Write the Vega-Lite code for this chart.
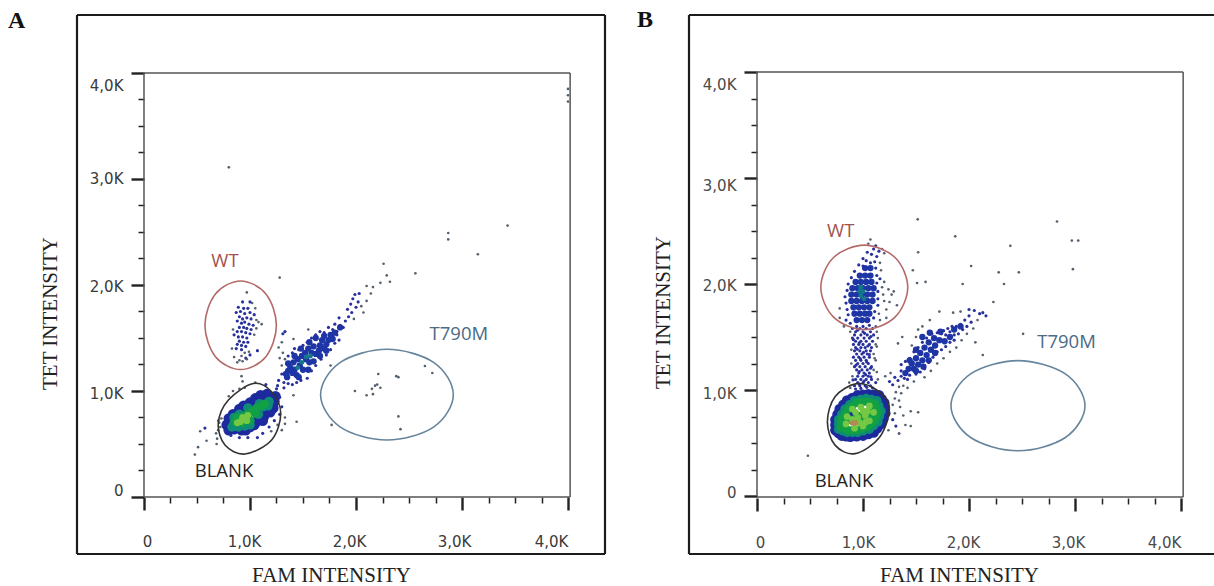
{"$schema":"https://vega.github.io/schema/vega-lite/v6.json","autosize":{"type":"pad"},"padding":{"left":8,"top":8,"right":0,"bottom":0},"background":"white","bounds":"flush","spacing":84,"config":{"view":{"stroke":null},"axis":{"grid":false,"domain":false}},
"hconcat":[
{"width":528,"height":539,"resolve":{"scale":{"color":"independent","size":"independent"}},
"encoding":{"x":{"field":"x","type":"quantitative","scale":{"domain":[-0.632,4.349],"nice":false,"zero":false},"axis":{"offset":-57,"values":[0,0.25,0.5,0.75,1,1.25,1.5,1.75,2,2.25,2.5,2.75,3,3.25,3.5,3.75,4],"tickSize":{"condition":{"test":"datum.value%1!=0","value":6},"value":13},"tickWidth":{"condition":{"test":"datum.value%1!=0","value":1.5},"value":2.4},"tickColor":"#222","labelPadding":24,"labelFont":"DejaVu Sans","labelFontSize":15,"labelColor":"#3a3a3a","labelBaseline":"top","labelFlush":false,"labelOverlap":false,"labelExpr":"datum.value%1!=0?'':datum.value==0?'0':replace(format(datum.value,'.1f'),'.',',')+'K'","title":"FAM INTENSITY","titleFont":"Liberation Serif","titleFontSize":21,"titleFontWeight":"normal","titleColor":"#222","titleX":254,"titleY":78,"titleBaseline":"middle","labelOffset":{"condition":[{"test":"datum.value==0","value":3},{"test":"datum.value==1","value":-6},{"test":"datum.value==2","value":-7},{"test":"datum.value==3","value":-8}],"value":-17}}},"y":{"field":"y","type":"quantitative","scale":{"domain":[-0.538,4.547],"nice":false,"zero":false},"axis":{"offset":-67,"values":[0,0.25,0.5,0.75,1,1.25,1.5,1.75,2,2.25,2.5,2.75,3,3.25,3.5,3.75,4],"tickSize":{"condition":{"test":"datum.value%1!=0","value":6},"value":13},"tickWidth":{"condition":{"test":"datum.value%1!=0","value":1.5},"value":2.4},"tickColor":"#222","labelPadding":8,"labelFont":"DejaVu Sans","labelFontSize":15,"labelColor":"#3a3a3a","labelOverlap":false,"labelFlush":false,"labelExpr":"datum.value%1!=0?'':datum.value==0?'0':replace(format(datum.value,'.1f'),'.',',')+'K'","title":"TET INTENSITY","titleFont":"Liberation Serif","titleFontSize":21,"titleFontWeight":"normal","titleColor":"#222","titleX":-94,"titleY":298,"titleBaseline":"middle","titleAngle":-90,"labelOffset":{"condition":[{"test":"datum.value==0","value":-6},{"test":"datum.value==1","value":3},{"test":"datum.value==2","value":2},{"test":"datum.value==3","value":0}],"value":13}}}},
"layer":[
{"mark":{"type":"rule","strokeWidth":2.2,"color":"#1c1c1c"},"data":{"values":[{"x":-0.632,"x2":4.349,"y":4.547,"y2":4.547},{"x":-0.632,"x2":4.349,"y":-0.538,"y2":-0.538},{"x":-0.632,"x2":-0.632,"y":-0.538,"y2":4.547},{"x":4.349,"x2":4.349,"y":-0.538,"y2":4.547}]},
"encoding":{"x2":{"field":"x2"},"y2":{"field":"y2"}}},
{"mark":{"type":"rule","strokeWidth":1.5,"color":"#555"},"data":{"values":[{"x":0,"x2":0,"y":0,"y2":4},{"x":0,"x2":4.02,"y":0,"y2":0},{"x":0,"x2":4.02,"y":4,"y2":4},{"x":4.02,"x2":4.02,"y":0,"y2":4}]},
"encoding":{"x2":{"field":"x2"},"y2":{"field":"y2"}}},
{"mark":{"type":"point","filled":true,"strokeWidth":0,"opacity":1},"data":{"values":[
{"x":0.81,"y":0.68,"d":"b"},{"x":0.87,"y":0.73,"d":"b"},{"x":0.94,"y":0.79,"d":"b"},{"x":1.03,"y":0.85,"d":"b"},{"x":1.13,"y":0.92,"d":"b"},{"x":1.2,"y":0.94,"d":"b"},{"x":0.92,"y":0.63,"d":"b"},{"x":1.0,"y":0.66,"d":"b"},{"x":1.08,"y":0.74,"d":"b"},{"x":1.16,"y":0.82,"d":"b"},{"x":1.2,"y":0.88,"d":"b"},{"x":0.97,"y":0.74,"d":"b"},{"x":1.06,"y":0.81,"d":"b"},{"x":1.13,"y":0.87,"d":"b"},{"x":0.85,"y":0.64,"d":"b"},{"x":0.8,"y":0.74,"d":"b"},{"x":0.9,"y":0.83,"d":"b"},{"x":1.0,"y":0.89,"d":"b"},{"x":1.1,"y":0.96,"d":"b"},{"x":1.05,"y":0.7,"d":"b"},{"x":1.13,"y":0.76,"d":"b"},{"x":1.22,"y":0.84,"d":"b"},{"x":0.88,"y":0.69,"d":"b"},{"x":0.78,"y":0.68,"d":"b"},{"x":0.8,"y":0.63,"d":"b"},{"x":0.96,"y":0.63,"d":"b"},{"x":1.04,"y":0.68,"d":"b"},{"x":1.12,"y":0.72,"d":"b"},{"x":1.19,"y":0.8,"d":"b"},{"x":1.23,"y":0.9,"d":"b"},{"x":1.24,"y":0.95,"d":"b"},{"x":0.84,"y":0.78,"d":"b"},{"x":0.94,"y":0.86,"d":"b"},{"x":1.05,"y":0.93,"d":"b"},{"x":1.16,"y":0.97,"d":"b"},
{"x":0.85,"y":0.7,"d":"c"},{"x":0.93,"y":0.7,"d":"c"},{"x":1.0,"y":0.72,"d":"c"},{"x":1.06,"y":0.79,"d":"c"},{"x":1.12,"y":0.85,"d":"c"},{"x":1.18,"y":0.9,"d":"c"},{"x":0.94,"y":0.76,"d":"c"},{"x":1.02,"y":0.81,"d":"c"},{"x":1.09,"y":0.88,"d":"c"},{"x":0.83,"y":0.66,"d":"c"},{"x":0.9,"y":0.78,"d":"c"},{"x":0.98,"y":0.84,"d":"c"},{"x":1.08,"y":0.83,"d":"c"},{"x":1.0,"y":0.68,"d":"c"},{"x":1.08,"y":0.78,"d":"c"},{"x":1.17,"y":0.86,"d":"c"},{"x":0.89,"y":0.66,"d":"c"},{"x":0.85,"y":0.75,"d":"c"},{"x":0.95,"y":0.67,"d":"c"},
{"x":0.86,"y":0.71,"d":"e"},{"x":0.93,"y":0.7,"d":"e"},{"x":1.0,"y":0.72,"d":"e"},{"x":1.05,"y":0.79,"d":"e"},{"x":1.11,"y":0.86,"d":"e"},{"x":0.95,"y":0.77,"d":"e"},{"x":1.02,"y":0.81,"d":"e"},{"x":0.88,"y":0.75,"d":"e"},{"x":0.98,"y":0.78,"d":"e"},{"x":1.06,"y":0.84,"d":"e"},{"x":1.14,"y":0.88,"d":"e"},
{"x":0.91,"y":0.71,"d":"l"},{"x":0.95,"y":0.73,"d":"l"},{"x":0.98,"y":0.77,"d":"l"},{"x":0.88,"y":0.7,"d":"l"},{"x":0.93,"y":0.75,"d":"l"},{"x":0.97,"y":0.72,"d":"l"},
{"x":1.35,"y":1.13,"d":"m"},{"x":1.4,"y":1.17,"d":"m"},{"x":1.38,"y":1.22,"d":"m"},{"x":1.44,"y":1.15,"d":"m"},{"x":1.47,"y":1.24,"d":"m"},{"x":1.5,"y":1.2,"d":"m"},{"x":1.45,"y":1.3,"d":"m"},{"x":1.53,"y":1.3,"d":"m"},{"x":1.56,"y":1.27,"d":"m"},{"x":1.52,"y":1.36,"d":"m"},{"x":1.58,"y":1.36,"d":"m"},{"x":1.62,"y":1.35,"d":"m"},{"x":1.6,"y":1.42,"d":"m"},{"x":1.66,"y":1.43,"d":"m"},{"x":1.7,"y":1.4,"d":"m"},{"x":1.68,"y":1.48,"d":"m"},{"x":1.74,"y":1.48,"d":"m"},{"x":1.76,"y":1.53,"d":"m"},{"x":1.42,"y":1.2,"d":"m"},{"x":1.41,"y":1.27,"d":"m"},{"x":1.49,"y":1.33,"d":"m"},{"x":1.55,"y":1.4,"d":"m"},{"x":1.65,"y":1.38,"d":"m"},{"x":1.72,"y":1.44,"d":"m"},{"x":1.36,"y":1.19,"d":"m"},{"x":1.34,"y":1.16,"d":"m"},{"x":1.46,"y":1.13,"d":"m"},{"x":1.55,"y":1.2,"d":"m"},{"x":1.6,"y":1.28,"d":"m"},{"x":1.66,"y":1.33,"d":"m"},{"x":1.72,"y":1.38,"d":"m"},{"x":1.36,"y":1.26,"d":"m"},{"x":1.42,"y":1.33,"d":"m"},{"x":1.48,"y":1.4,"d":"m"},{"x":1.56,"y":1.46,"d":"m"},{"x":1.62,"y":1.5,"d":"m"},{"x":1.7,"y":1.52,"d":"m"},{"x":1.8,"y":1.55,"d":"m"},{"x":1.85,"y":1.6,"d":"m"},{"x":1.78,"y":1.49,"d":"m"},
{"x":1.45,"y":1.22,"d":"t"},{"x":1.49,"y":1.27,"d":"t"},{"x":1.53,"y":1.32,"d":"t"},{"x":1.57,"y":1.33,"d":"t"},
{"x":0.97,"y":1.93,"d":"g"},{"x":0.93,"y":1.84,"d":"s"},{"x":1.0,"y":1.84,"d":"s"},{"x":1.02,"y":1.83,"d":"g"},{"x":0.89,"y":1.79,"d":"s"},{"x":0.94,"y":1.78,"d":"s"},{"x":0.98,"y":1.78,"d":"s"},{"x":1.05,"y":1.78,"d":"g"},{"x":0.87,"y":1.74,"d":"s"},{"x":0.91,"y":1.75,"d":"s"},{"x":0.95,"y":1.73,"d":"s"},{"x":1.0,"y":1.74,"d":"s"},{"x":1.04,"y":1.72,"d":"s"},{"x":0.9,"y":1.7,"d":"s"},{"x":0.93,"y":1.68,"d":"s"},{"x":0.97,"y":1.69,"d":"s"},{"x":1.01,"y":1.68,"d":"s"},{"x":1.06,"y":1.67,"d":"g"},{"x":1.08,"y":1.65,"d":"g"},{"x":1.11,"y":1.63,"d":"g"},{"x":0.88,"y":1.66,"d":"s"},{"x":0.92,"y":1.64,"d":"s"},{"x":0.95,"y":1.65,"d":"s"},{"x":0.99,"y":1.63,"d":"s"},{"x":1.03,"y":1.62,"d":"s"},{"x":0.9,"y":1.6,"d":"s"},{"x":0.94,"y":1.6,"d":"s"},{"x":0.97,"y":1.59,"d":"s"},{"x":1.01,"y":1.58,"d":"s"},{"x":1.06,"y":1.59,"d":"g"},{"x":0.84,"y":1.58,"d":"g"},{"x":0.88,"y":1.56,"d":"s"},{"x":0.92,"y":1.56,"d":"s"},{"x":0.96,"y":1.55,"d":"s"},{"x":1.0,"y":1.54,"d":"s"},{"x":1.04,"y":1.53,"d":"g"},{"x":0.85,"y":1.53,"d":"s"},{"x":0.89,"y":1.51,"d":"s"},{"x":0.93,"y":1.51,"d":"s"},{"x":0.97,"y":1.5,"d":"s"},{"x":0.9,"y":1.47,"d":"s"},{"x":0.94,"y":1.46,"d":"s"},{"x":0.98,"y":1.46,"d":"s"},{"x":0.88,"y":1.44,"d":"s"},{"x":0.92,"y":1.43,"d":"s"},{"x":0.96,"y":1.42,"d":"s"},{"x":0.83,"y":1.4,"d":"g"},{"x":0.87,"y":1.4,"d":"s"},{"x":0.92,"y":1.39,"d":"s"},{"x":1.07,"y":1.38,"d":"s"},{"x":0.95,"y":1.36,"d":"g"},{"x":0.99,"y":1.37,"d":"g"},{"x":0.85,"y":1.32,"d":"g"},{"x":0.92,"y":1.33,"d":"g"},{"x":0.96,"y":1.31,"d":"s"},{"x":1.0,"y":1.34,"d":"s"},{"x":0.9,"y":1.29,"d":"g"},{"x":0.93,"y":1.28,"d":"g"},{"x":0.88,"y":1.27,"d":"g"},{"x":0.97,"y":1.3,"d":"g"},{"x":0.92,"y":1.14,"d":"g"},{"x":0.93,"y":1.09,"d":"g"},
{"x":0.9,"y":1.02,"d":"g"},{"x":0.84,"y":1.0,"d":"g"},{"x":0.8,"y":0.95,"d":"g"},{"x":0.95,"y":1.03,"d":"g"},{"x":1.05,"y":1.08,"d":"g"},{"x":1.15,"y":1.06,"d":"s"},{"x":1.25,"y":1.02,"d":"s"},{"x":1.32,"y":1.03,"d":"s"},{"x":1.28,"y":0.94,"d":"s"},{"x":1.3,"y":0.85,"d":"s"},{"x":1.28,"y":0.78,"d":"s"},{"x":1.33,"y":0.75,"d":"g"},{"x":1.23,"y":0.72,"d":"s"},{"x":1.18,"y":0.66,"d":"s"},{"x":1.12,"y":0.6,"d":"s"},{"x":1.07,"y":0.56,"d":"s"},{"x":0.98,"y":0.56,"d":"s"},{"x":0.9,"y":0.56,"d":"s"},{"x":0.82,"y":0.58,"d":"s"},{"x":0.77,"y":0.62,"d":"s"},{"x":0.72,"y":0.66,"d":"g"},{"x":0.71,"y":0.7,"d":"g"},{"x":0.73,"y":0.74,"d":"g"},{"x":0.7,"y":0.63,"d":"g"},{"x":0.68,"y":0.6,"d":"g"},{"x":0.48,"y":0.4,"d":"g"},{"x":0.51,"y":0.47,"d":"g"},{"x":0.53,"y":0.62,"d":"g"},{"x":0.575,"y":0.65,"d":"s"},{"x":0.59,"y":0.53,"d":"g"},{"x":0.685,"y":0.5,"d":"g"},{"x":0.69,"y":0.55,"d":"g"},{"x":0.7,"y":0.72,"d":"g"},{"x":1.26,"y":0.68,"d":"g"},{"x":1.2,"y":0.62,"d":"g"},
{"x":1.27,"y":1.1,"d":"s"},{"x":1.3,"y":1.16,"d":"s"},{"x":1.32,"y":1.08,"d":"s"},{"x":1.26,"y":1.05,"d":"s"},{"x":1.36,"y":1.07,"d":"s"},{"x":1.4,"y":1.06,"d":"s"},{"x":1.44,"y":1.08,"d":"s"},{"x":1.48,"y":1.1,"d":"s"},{"x":1.54,"y":1.12,"d":"s"},{"x":1.58,"y":1.19,"d":"s"},{"x":1.62,"y":1.24,"d":"s"},{"x":1.67,"y":1.3,"d":"s"},{"x":1.72,"y":1.34,"d":"s"},{"x":1.76,"y":1.39,"d":"s"},{"x":1.8,"y":1.45,"d":"s"},{"x":1.84,"y":1.48,"d":"s"},{"x":1.3,"y":1.24,"d":"g"},{"x":1.33,"y":1.3,"d":"g"},{"x":1.36,"y":1.33,"d":"s"},{"x":1.4,"y":1.36,"d":"s"},{"x":1.42,"y":1.4,"d":"s"},{"x":1.46,"y":1.39,"d":"s"},{"x":1.5,"y":1.43,"d":"s"},{"x":1.54,"y":1.46,"d":"s"},{"x":1.58,"y":1.5,"d":"s"},{"x":1.62,"y":1.53,"d":"s"},{"x":1.66,"y":1.56,"d":"s"},{"x":1.7,"y":1.55,"d":"s"},{"x":1.74,"y":1.6,"d":"s"},{"x":1.78,"y":1.52,"d":"s"},{"x":1.82,"y":1.53,"d":"s"},{"x":1.3,"y":1.46,"d":"g"},{"x":1.27,"y":1.41,"d":"g"},{"x":1.31,"y":1.54,"d":"s"},{"x":1.33,"y":1.56,"d":"s"},{"x":1.31,"y":1.36,"d":"g"},{"x":1.28,"y":1.31,"d":"g"},{"x":1.41,"y":1.49,"d":"g"},{"x":1.55,"y":1.58,"d":"g"},{"x":1.76,"y":1.24,"d":"g"},
{"x":1.78,"y":1.58,"d":"s"},{"x":1.82,"y":1.56,"d":"s"},{"x":1.8,"y":1.63,"d":"s"},{"x":1.85,"y":1.62,"d":"s"},{"x":1.88,"y":1.6,"d":"s"},{"x":1.84,"y":1.69,"d":"s"},{"x":1.9,"y":1.66,"d":"s"},{"x":1.93,"y":1.7,"d":"s"},{"x":1.96,"y":1.74,"d":"s"},{"x":1.92,"y":1.77,"d":"s"},{"x":1.98,"y":1.68,"d":"g"},{"x":2.0,"y":1.79,"d":"s"},{"x":1.95,"y":1.82,"d":"s"},{"x":2.02,"y":1.84,"d":"s"},{"x":1.97,"y":1.87,"d":"s"},{"x":2.05,"y":1.8,"d":"g"},{"x":2.07,"y":1.74,"d":"g"},{"x":1.99,"y":1.91,"d":"s"},{"x":2.03,"y":1.92,"d":"s"},{"x":2.1,"y":1.85,"d":"g"},{"x":2.14,"y":1.92,"d":"g"},{"x":2.1,"y":1.99,"d":"g"},{"x":2.16,"y":1.98,"d":"g"},{"x":2.26,"y":2.2,"d":"g"},{"x":2.29,"y":2.09,"d":"g"},{"x":2.32,"y":2.03,"d":"g"},{"x":2.23,"y":2.02,"d":"g"},{"x":2.56,"y":2.11,"d":"g"},
{"x":2.65,"y":1.236,"d":"g"},{"x":2.72,"y":1.17,"d":"g"},{"x":2.21,"y":1.16,"d":"g"},{"x":2.38,"y":1.14,"d":"g"},{"x":2.4,"y":1.13,"d":"g"},{"x":1.99,"y":1.0,"d":"g"},{"x":2.15,"y":1.02,"d":"g"},{"x":2.18,"y":1.05,"d":"g"},{"x":2.2,"y":1.06,"d":"g"},{"x":2.23,"y":1.03,"d":"g"},{"x":2.1,"y":0.96,"d":"g"},{"x":2.16,"y":0.97,"d":"g"},{"x":2.4,"y":0.76,"d":"g"},{"x":2.42,"y":0.64,"d":"g"},{"x":1.77,"y":0.68,"d":"g"},{"x":1.44,"y":0.71,"d":"g"},{"x":1.33,"y":0.69,"d":"g"},{"x":1.3,"y":0.63,"d":"g"},{"x":1.41,"y":0.96,"d":"g"},
{"x":0.8,"y":3.11,"d":"g"},{"x":2.87,"y":2.43,"d":"g"},{"x":2.87,"y":2.49,"d":"g"},{"x":3.43,"y":2.56,"d":"g"},{"x":3.15,"y":2.29,"d":"g"},{"x":1.28,"y":2.07,"d":"g"},{"x":4.0,"y":3.85,"d":"g"},{"x":4.0,"y":3.79,"d":"g"},{"x":4.0,"y":3.73,"d":"g"}
]},"encoding":{
"color":{"field":"d","type":"nominal","legend":null,"scale":{"domain":["s","g","m","t","b","c","e","l","o"],"range":["#27309c","#55606e","#1d35a5","#14788c","#1c2a9e","#0f8c78","#11a044","#74c843","#b28a55"]}},
"size":{"field":"d","type":"nominal","legend":null,"scale":{"type":"ordinal","domain":["s","g","m","t","b","c","e","l","o"],"range":[10,7,40,24,113,90,70,45,30]}}}},
{"mark":{"type":"line","interpolate":"cardinal-closed","strokeWidth":1.6},"data":{"values":[
{"n":"WT","o":1,"x":1.249,"y":1.62},{"n":"WT","o":2,"x":1.15,"y":1.916},{"n":"WT","o":3,"x":0.912,"y":2.038},{"n":"WT","o":4,"x":0.674,"y":1.916},{"n":"WT","o":5,"x":0.575,"y":1.62},{"n":"WT","o":6,"x":0.674,"y":1.324},{"n":"WT","o":7,"x":0.912,"y":1.202},{"n":"WT","o":8,"x":1.15,"y":1.324},
{"n":"BLANK","o":1,"x":1.29,"y":0.79},{"n":"BLANK","o":2,"x":1.204,"y":0.993},{"n":"BLANK","o":3,"x":1.031,"y":1.07},{"n":"BLANK","o":4,"x":0.796,"y":0.915},{"n":"BLANK","o":5,"x":0.701,"y":0.695},{"n":"BLANK","o":6,"x":0.764,"y":0.49},{"n":"BLANK","o":7,"x":0.953,"y":0.405},{"n":"BLANK","o":8,"x":1.204,"y":0.538},
{"n":"T790M","o":1,"x":2.918,"y":0.965},{"n":"T790M","o":2,"x":2.735,"y":1.268},{"n":"T790M","o":3,"x":2.292,"y":1.393},{"n":"T790M","o":4,"x":1.849,"y":1.268},{"n":"T790M","o":5,"x":1.666,"y":0.965},{"n":"T790M","o":6,"x":1.849,"y":0.662},{"n":"T790M","o":7,"x":2.292,"y":0.537},{"n":"T790M","o":8,"x":2.735,"y":0.662}
]},"encoding":{"order":{"field":"o","type":"quantitative"},"color":{"field":"n","type":"nominal","legend":null,"scale":{"domain":["WT","BLANK","T790M"],"range":["#b46a68","#333333","#66859c"]}}}},
{"mark":{"type":"text","font":"Open Sans","fontSize":18.5,"align":"center","baseline":"middle"},"data":{"values":[{"x":0.764,"y":2.226,"n":"WT"},{"x":0.755,"y":0.245,"n":"BLANK"},{"x":2.97,"y":1.54,"n":"T790M"}]},"encoding":{"text":{"field":"n"},"color":{"field":"n","type":"nominal","legend":null,"scale":{"domain":["WT","BLANK","T790M"],"range":["#a2524e","#222222","#4a6a85"]}}}},
{"mark":{"type":"text","font":"Liberation Serif","fontWeight":"bold","fontSize":24,"color":"#111","align":"center","baseline":"middle"},"data":{"values":[{"x":-1.2,"y":4.49,"n":"A"}]},"encoding":{"text":{"field":"n"}}}
]},
{"width":525,"height":539,"resolve":{"scale":{"color":"independent","size":"independent"}},
"encoding":{"x":{"field":"x","type":"quantitative","scale":{"domain":[-0.6415,4.311],"nice":false,"zero":false},"axis":{"offset":-56,"values":[0,0.25,0.5,0.75,1,1.25,1.5,1.75,2,2.25,2.5,2.75,3,3.25,3.5,3.75,4],"tickSize":{"condition":{"test":"datum.value%1!=0","value":6},"value":13},"tickWidth":{"condition":{"test":"datum.value%1!=0","value":1.5},"value":2.4},"tickColor":"#222","labelPadding":24,"labelFont":"DejaVu Sans","labelFontSize":15,"labelColor":"#4a4a4a","labelBaseline":"top","labelFlush":false,"labelOverlap":false,"labelExpr":"datum.value%1!=0?'':datum.value==0?'0':replace(format(datum.value,'.1f'),'.',',')+'K'","title":"FAM INTENSITY","titleFont":"Liberation Serif","titleFontSize":21,"titleFontWeight":"normal","titleColor":"#222","titleX":270,"titleY":77,"titleBaseline":"middle","labelOffset":{"condition":[{"test":"datum.value==0","value":3},{"test":"datum.value==1","value":-5},{"test":"datum.value==2","value":-6},{"test":"datum.value==3","value":-7}],"value":-17}}},"y":{"field":"y","type":"quantitative","scale":{"domain":[-0.547,4.538],"nice":false,"zero":false},"axis":{"offset":-68,"values":[0,0.25,0.5,0.75,1,1.25,1.5,1.75,2,2.25,2.5,2.75,3,3.25,3.5,3.75,4],"tickSize":{"condition":{"test":"datum.value%1!=0","value":6},"value":13},"tickWidth":{"condition":{"test":"datum.value%1!=0","value":1.5},"value":2.4},"tickColor":"#222","labelPadding":8,"labelFont":"DejaVu Sans","labelFontSize":15,"labelColor":"#4a4a4a","labelOverlap":false,"labelFlush":false,"labelExpr":"datum.value%1!=0?'':datum.value==0?'0':replace(format(datum.value,'.1f'),'.',',')+'K'","title":"TET INTENSITY","titleFont":"Liberation Serif","titleFontSize":21,"titleFontWeight":"normal","titleColor":"#222","titleX":-94,"titleY":297,"titleBaseline":"middle","titleAngle":-90,"labelOffset":{"condition":[{"test":"datum.value==0","value":-4},{"test":"datum.value==1","value":3},{"test":"datum.value==2","value":1},{"test":"datum.value==3","value":7}],"value":12}}}},
"layer":[
{"mark":{"type":"rule","strokeWidth":2.2,"color":"#1c1c1c"},"data":{"values":[{"x":-0.6415,"x2":4.311,"y":4.538,"y2":4.538},{"x":-0.6415,"x2":4.311,"y":-0.547,"y2":-0.547},{"x":-0.6415,"x2":-0.6415,"y":-0.547,"y2":4.538}]},
"encoding":{"x2":{"field":"x2"},"y2":{"field":"y2"}}},
{"mark":{"type":"rule","strokeWidth":1.5,"color":"#555"},"data":{"values":[{"x":0,"x2":0,"y":0,"y2":4},{"x":0,"x2":4.02,"y":-0.01,"y2":-0.01},{"x":0,"x2":4.02,"y":4,"y2":4},{"x":4.02,"x2":4.02,"y":-0.01,"y2":4}]},
"encoding":{"x2":{"field":"x2"},"y2":{"field":"y2"}}},
{"mark":{"type":"point","filled":true,"strokeWidth":0,"opacity":1},"data":{"values":[
{"x":0.74,"y":0.62,"d":"b"},{"x":0.74,"y":0.72,"d":"b"},{"x":0.78,"y":0.82,"d":"b"},{"x":0.85,"y":0.9,"d":"b"},{"x":0.95,"y":0.95,"d":"b"},{"x":1.05,"y":0.96,"d":"b"},{"x":1.15,"y":0.95,"d":"b"},{"x":1.2,"y":0.88,"d":"b"},{"x":1.21,"y":0.78,"d":"b"},{"x":1.17,"y":0.68,"d":"b"},{"x":1.1,"y":0.6,"d":"b"},{"x":1.0,"y":0.57,"d":"b"},{"x":0.88,"y":0.56,"d":"b"},{"x":0.8,"y":0.57,"d":"b"},{"x":0.9,"y":0.75,"d":"b"},{"x":1.0,"y":0.75,"d":"b"},{"x":1.1,"y":0.8,"d":"b"},{"x":0.74,"y":0.67,"d":"b"},{"x":0.76,"y":0.77,"d":"b"},{"x":0.815,"y":0.86,"d":"b"},{"x":0.9,"y":0.925,"d":"b"},{"x":1.0,"y":0.955,"d":"b"},{"x":1.1,"y":0.955,"d":"b"},{"x":1.175,"y":0.915,"d":"b"},{"x":1.205,"y":0.83,"d":"b"},{"x":1.19,"y":0.73,"d":"b"},{"x":1.135,"y":0.64,"d":"b"},{"x":1.05,"y":0.585,"d":"b"},{"x":0.94,"y":0.565,"d":"b"},{"x":0.84,"y":0.565,"d":"b"},{"x":0.77,"y":0.595,"d":"b"},
{"x":0.77,"y":0.63,"d":"c"},{"x":0.77,"y":0.72,"d":"c"},{"x":0.83,"y":0.82,"d":"c"},{"x":0.92,"y":0.9,"d":"c"},{"x":1.03,"y":0.92,"d":"c"},{"x":1.13,"y":0.9,"d":"c"},{"x":1.17,"y":0.8,"d":"c"},{"x":1.14,"y":0.7,"d":"c"},{"x":1.06,"y":0.63,"d":"c"},{"x":0.95,"y":0.6,"d":"c"},{"x":0.85,"y":0.6,"d":"c"},{"x":0.95,"y":0.75,"d":"c"},{"x":1.05,"y":0.77,"d":"c"},{"x":0.77,"y":0.675,"d":"c"},{"x":0.8,"y":0.77,"d":"c"},{"x":0.875,"y":0.86,"d":"c"},{"x":0.975,"y":0.91,"d":"c"},{"x":1.08,"y":0.91,"d":"c"},{"x":1.15,"y":0.85,"d":"c"},{"x":1.155,"y":0.75,"d":"c"},{"x":1.1,"y":0.665,"d":"c"},{"x":1.0,"y":0.615,"d":"c"},{"x":0.9,"y":0.6,"d":"c"},{"x":0.81,"y":0.615,"d":"c"},
{"x":0.79,"y":0.65,"d":"e"},{"x":0.8,"y":0.73,"d":"e"},{"x":0.86,"y":0.82,"d":"e"},{"x":0.94,"y":0.88,"d":"e"},{"x":1.03,"y":0.89,"d":"e"},{"x":1.11,"y":0.87,"d":"e"},{"x":1.14,"y":0.79,"d":"e"},{"x":1.11,"y":0.71,"d":"e"},{"x":1.04,"y":0.65,"d":"e"},{"x":0.94,"y":0.62,"d":"e"},{"x":0.86,"y":0.62,"d":"e"},{"x":0.95,"y":0.75,"d":"e"},{"x":1.03,"y":0.77,"d":"e"},{"x":0.87,"y":0.72,"d":"e"},{"x":1.07,"y":0.8,"d":"e"},{"x":0.795,"y":0.69,"d":"e"},{"x":0.83,"y":0.775,"d":"e"},{"x":0.9,"y":0.85,"d":"e"},{"x":0.985,"y":0.885,"d":"e"},{"x":1.07,"y":0.88,"d":"e"},{"x":1.125,"y":0.83,"d":"e"},{"x":1.125,"y":0.75,"d":"e"},{"x":1.075,"y":0.68,"d":"e"},{"x":0.99,"y":0.635,"d":"e"},{"x":0.9,"y":0.62,"d":"e"},{"x":0.825,"y":0.635,"d":"e"},{"x":0.9,"y":0.72,"d":"e"},{"x":1.0,"y":0.7,"d":"e"},{"x":1.08,"y":0.76,"d":"e"},
{"x":0.84,"y":0.68,"d":"l"},{"x":0.85,"y":0.75,"d":"l"},{"x":0.9,"y":0.82,"d":"l"},{"x":0.98,"y":0.84,"d":"l"},{"x":1.06,"y":0.85,"d":"l"},{"x":1.1,"y":0.79,"d":"l"},{"x":1.06,"y":0.71,"d":"l"},{"x":1.0,"y":0.66,"d":"l"},{"x":0.92,"y":0.64,"d":"l"},{"x":0.95,"y":0.74,"d":"l"},{"x":1.02,"y":0.76,"d":"l"},{"x":0.9,"y":0.72,"d":"l"},{"x":0.97,"y":0.69,"d":"l"},{"x":1.0,"y":0.8,"d":"l"},{"x":0.93,"y":0.79,"d":"l"},{"x":1.04,"y":0.8,"d":"l"},{"x":1.03,"y":0.7,"d":"l"},
{"x":0.9,"y":0.69,"d":"o"},{"x":0.93,"y":0.69,"d":"o"},
{"x":1.02,"y":2.15,"d":"m"},{"x":1.07,"y":2.15,"d":"m"},{"x":0.97,"y":2.08,"d":"m"},{"x":1.02,"y":2.08,"d":"m"},{"x":1.07,"y":2.08,"d":"m"},{"x":0.93,"y":2.02,"d":"m"},{"x":0.98,"y":2.02,"d":"m"},{"x":1.03,"y":2.02,"d":"m"},{"x":1.08,"y":2.02,"d":"m"},{"x":0.9,"y":1.96,"d":"m"},{"x":0.95,"y":1.96,"d":"m"},{"x":1.0,"y":1.96,"d":"m"},{"x":1.05,"y":1.96,"d":"m"},{"x":1.1,"y":1.96,"d":"m"},{"x":0.89,"y":1.9,"d":"m"},{"x":0.94,"y":1.9,"d":"m"},{"x":0.99,"y":1.9,"d":"m"},{"x":1.04,"y":1.9,"d":"m"},{"x":1.09,"y":1.9,"d":"m"},{"x":0.89,"y":1.84,"d":"m"},{"x":0.94,"y":1.84,"d":"m"},{"x":0.99,"y":1.84,"d":"m"},{"x":1.04,"y":1.84,"d":"m"},{"x":1.09,"y":1.84,"d":"m"},{"x":0.91,"y":1.78,"d":"m"},{"x":0.96,"y":1.78,"d":"m"},{"x":1.01,"y":1.78,"d":"m"},{"x":1.06,"y":1.78,"d":"m"},{"x":0.92,"y":1.72,"d":"m"},{"x":0.97,"y":1.72,"d":"m"},{"x":1.02,"y":1.72,"d":"m"},{"x":1.06,"y":1.72,"d":"m"},{"x":0.94,"y":1.66,"d":"m"},{"x":0.99,"y":1.66,"d":"m"},{"x":1.04,"y":1.66,"d":"m"},
{"x":1.43,"y":1.2,"d":"m"},{"x":1.48,"y":1.2,"d":"m"},{"x":1.46,"y":1.25,"d":"m"},{"x":1.52,"y":1.24,"d":"m"},{"x":1.5,"y":1.3,"d":"m"},{"x":1.56,"y":1.28,"d":"m"},{"x":1.54,"y":1.35,"d":"m"},{"x":1.6,"y":1.33,"d":"m"},{"x":1.58,"y":1.4,"d":"m"},{"x":1.64,"y":1.38,"d":"m"},{"x":1.62,"y":1.45,"d":"m"},{"x":1.68,"y":1.42,"d":"m"},{"x":1.67,"y":1.49,"d":"m"},{"x":1.72,"y":1.47,"d":"m"},{"x":1.4,"y":1.16,"d":"m"},{"x":1.44,"y":1.28,"d":"m"},{"x":1.5,"y":1.18,"d":"m"},{"x":1.57,"y":1.22,"d":"m"},{"x":1.62,"y":1.28,"d":"m"},{"x":1.68,"y":1.35,"d":"m"},{"x":1.5,"y":1.38,"d":"m"},{"x":1.56,"y":1.5,"d":"m"},{"x":1.63,"y":1.54,"d":"m"},{"x":1.73,"y":1.55,"d":"m"},{"x":1.77,"y":1.46,"d":"m"},{"x":1.82,"y":1.5,"d":"m"},{"x":1.86,"y":1.57,"d":"m"},{"x":1.92,"y":1.6,"d":"m"},
{"x":0.98,"y":1.97,"d":"t"},{"x":1.0,"y":1.93,"d":"t"},{"x":0.98,"y":1.89,"d":"t"},{"x":1.01,"y":1.86,"d":"t"},{"x":0.97,"y":1.93,"d":"t"},
{"x":1.07,"y":2.42,"d":"g"},{"x":1.05,"y":2.38,"d":"g"},{"x":1.12,"y":2.36,"d":"s"},{"x":1.1,"y":2.33,"d":"s"},{"x":1.15,"y":2.31,"d":"s"},{"x":1.18,"y":2.33,"d":"g"},{"x":1.2,"y":2.29,"d":"g"},{"x":1.04,"y":2.3,"d":"s"},{"x":1.08,"y":2.28,"d":"s"},{"x":1.13,"y":2.26,"d":"s"},{"x":1.0,"y":2.24,"d":"s"},{"x":1.03,"y":2.22,"d":"s"},{"x":1.07,"y":2.2,"d":"s"},{"x":1.11,"y":2.21,"d":"s"},{"x":1.16,"y":2.2,"d":"g"},{"x":0.96,"y":2.18,"d":"s"},{"x":1.0,"y":2.17,"d":"s"},{"x":1.12,"y":2.15,"d":"s"},{"x":1.17,"y":2.13,"d":"g"},{"x":0.92,"y":2.12,"d":"s"},{"x":1.13,"y":2.08,"d":"s"},{"x":1.16,"y":2.05,"d":"s"},{"x":1.2,"y":2.02,"d":"g"},{"x":0.89,"y":2.06,"d":"s"},{"x":0.86,"y":2.0,"d":"s"},{"x":1.13,"y":2.01,"d":"s"},{"x":1.18,"y":1.97,"d":"g"},{"x":1.24,"y":1.95,"d":"g"},{"x":1.29,"y":1.93,"d":"g"},{"x":0.85,"y":1.94,"d":"s"},{"x":0.83,"y":1.88,"d":"s"},{"x":0.84,"y":1.82,"d":"s"},{"x":1.14,"y":1.93,"d":"s"},{"x":1.19,"y":1.9,"d":"g"},{"x":1.27,"y":1.9,"d":"g"},{"x":1.14,"y":1.86,"d":"s"},{"x":1.2,"y":1.84,"d":"g"},{"x":1.25,"y":1.83,"d":"g"},{"x":0.85,"y":1.76,"d":"s"},{"x":0.78,"y":1.77,"d":"g"},{"x":1.14,"y":1.8,"d":"s"},{"x":1.22,"y":1.76,"d":"g"},{"x":1.32,"y":1.8,"d":"g"},{"x":0.86,"y":1.71,"d":"s"},{"x":1.11,"y":1.74,"d":"s"},{"x":1.15,"y":1.72,"d":"g"},{"x":0.84,"y":1.66,"d":"s"},{"x":0.88,"y":1.63,"d":"s"},{"x":1.1,"y":1.68,"d":"s"},{"x":1.16,"y":1.66,"d":"g"},{"x":1.22,"y":1.68,"d":"g"},{"x":0.78,"y":1.68,"d":"g"},{"x":0.82,"y":1.6,"d":"g"},{"x":0.94,"y":1.6,"d":"s"},{"x":1.0,"y":1.6,"d":"s"},{"x":1.06,"y":1.61,"d":"s"},{"x":1.12,"y":1.6,"d":"g"},
{"x":0.9,"y":1.58,"d":"s"},{"x":0.97,"y":1.58,"d":"s"},{"x":1.03,"y":1.58,"d":"s"},{"x":1.09,"y":1.58,"d":"s"},{"x":0.88,"y":1.55,"d":"g"},{"x":0.93,"y":1.55,"d":"s"},{"x":1.0,"y":1.55,"d":"s"},{"x":1.07,"y":1.55,"d":"s"},{"x":1.13,"y":1.55,"d":"g"},{"x":0.92,"y":1.52,"d":"s"},{"x":0.98,"y":1.52,"d":"s"},{"x":1.04,"y":1.52,"d":"s"},{"x":1.1,"y":1.52,"d":"s"},{"x":0.9,"y":1.49,"d":"s"},{"x":0.95,"y":1.49,"d":"s"},{"x":1.01,"y":1.49,"d":"s"},{"x":1.06,"y":1.49,"d":"s"},{"x":1.14,"y":1.49,"d":"g"},{"x":0.93,"y":1.46,"d":"s"},{"x":0.98,"y":1.46,"d":"s"},{"x":1.03,"y":1.46,"d":"s"},{"x":1.09,"y":1.46,"d":"s"},{"x":0.91,"y":1.43,"d":"s"},{"x":0.96,"y":1.43,"d":"s"},{"x":1.0,"y":1.43,"d":"s"},{"x":1.06,"y":1.43,"d":"s"},{"x":1.12,"y":1.43,"d":"g"},{"x":0.93,"y":1.4,"d":"s"},{"x":0.98,"y":1.4,"d":"s"},{"x":1.02,"y":1.4,"d":"s"},{"x":1.08,"y":1.4,"d":"s"},{"x":0.92,"y":1.37,"d":"s"},{"x":0.97,"y":1.37,"d":"s"},{"x":1.03,"y":1.37,"d":"s"},{"x":1.07,"y":1.37,"d":"s"},{"x":0.94,"y":1.34,"d":"s"},{"x":0.99,"y":1.34,"d":"s"},{"x":1.04,"y":1.34,"d":"s"},{"x":1.1,"y":1.34,"d":"g"},{"x":0.91,"y":1.31,"d":"s"},{"x":0.96,"y":1.31,"d":"s"},{"x":1.01,"y":1.31,"d":"s"},{"x":1.06,"y":1.31,"d":"s"},{"x":0.93,"y":1.28,"d":"s"},{"x":0.98,"y":1.28,"d":"s"},{"x":1.03,"y":1.28,"d":"s"},{"x":1.12,"y":1.28,"d":"g"},{"x":0.95,"y":1.25,"d":"s"},{"x":1.0,"y":1.25,"d":"s"},{"x":1.05,"y":1.25,"d":"s"},{"x":0.92,"y":1.22,"d":"s"},{"x":0.97,"y":1.22,"d":"s"},{"x":1.02,"y":1.22,"d":"s"},{"x":1.08,"y":1.22,"d":"s"},{"x":0.94,"y":1.19,"d":"s"},{"x":0.99,"y":1.19,"d":"s"},{"x":1.04,"y":1.19,"d":"s"},{"x":1.1,"y":1.19,"d":"g"},{"x":0.96,"y":1.16,"d":"s"},{"x":1.01,"y":1.16,"d":"s"},{"x":1.06,"y":1.16,"d":"s"},{"x":0.9,"y":1.13,"d":"g"},{"x":0.95,"y":1.13,"d":"s"},{"x":1.0,"y":1.13,"d":"s"},{"x":1.05,"y":1.13,"d":"s"},{"x":0.93,"y":1.1,"d":"s"},{"x":0.98,"y":1.1,"d":"s"},{"x":1.03,"y":1.1,"d":"s"},{"x":1.08,"y":1.1,"d":"s"},{"x":0.87,"y":1.07,"d":"g"},{"x":0.95,"y":1.07,"d":"s"},{"x":1.0,"y":1.07,"d":"s"},{"x":1.05,"y":1.07,"d":"s"},{"x":1.12,"y":1.07,"d":"s"},{"x":0.92,"y":1.04,"d":"s"},{"x":0.97,"y":1.04,"d":"s"},{"x":1.02,"y":1.04,"d":"s"},{"x":1.07,"y":1.04,"d":"s"},
{"x":0.95,"y":1.565,"d":"s"},{"x":1.015,"y":1.535,"d":"s"},{"x":1.075,"y":1.505,"d":"s"},{"x":0.91,"y":1.475,"d":"s"},{"x":0.965,"y":1.445,"d":"s"},{"x":1.045,"y":1.415,"d":"s"},{"x":0.945,"y":1.385,"d":"s"},{"x":1.005,"y":1.355,"d":"s"},{"x":1.06,"y":1.335,"d":"s"},{"x":0.975,"y":1.295,"d":"s"},{"x":1.035,"y":1.265,"d":"s"},{"x":0.935,"y":1.235,"d":"s"},{"x":1.07,"y":1.205,"d":"s"},{"x":0.965,"y":1.175,"d":"s"},{"x":1.025,"y":1.145,"d":"s"},{"x":1.075,"y":1.125,"d":"s"},{"x":0.905,"y":1.095,"d":"s"},{"x":1.01,"y":1.085,"d":"s"},{"x":0.965,"y":1.055,"d":"s"},{"x":1.035,"y":1.025,"d":"s"},{"x":1.09,"y":1.02,"d":"s"},{"x":0.98,"y":1.015,"d":"s"},{"x":0.93,"y":1.01,"d":"s"},{"x":1.13,"y":1.41,"d":"g"},{"x":0.89,"y":1.38,"d":"g"},{"x":1.11,"y":1.3,"d":"g"},{"x":0.89,"y":1.25,"d":"g"},{"x":1.13,"y":1.17,"d":"g"},{"x":1.14,"y":1.1,"d":"g"},{"x":0.88,"y":1.02,"d":"g"},
{"x":1.25,"y":1.08,"d":"s"},{"x":1.28,"y":1.05,"d":"s"},{"x":1.3,"y":1.12,"d":"s"},{"x":1.33,"y":1.09,"d":"s"},{"x":1.36,"y":1.13,"d":"s"},{"x":1.39,"y":1.11,"d":"s"},{"x":1.21,"y":1.13,"d":"g"},{"x":1.26,"y":1.16,"d":"g"},{"x":1.34,"y":1.03,"d":"g"},{"x":1.38,"y":1.04,"d":"g"},{"x":1.42,"y":1.1,"d":"s"},{"x":1.31,"y":0.98,"d":"g"},{"x":1.36,"y":0.97,"d":"g"},{"x":1.3,"y":0.92,"d":"g"},{"x":1.34,"y":0.9,"d":"g"},{"x":1.28,"y":0.86,"d":"g"},{"x":1.35,"y":0.84,"d":"g"},{"x":1.3,"y":0.78,"d":"g"},{"x":1.38,"y":0.76,"d":"g"},{"x":1.45,"y":0.8,"d":"g"},{"x":1.52,"y":0.79,"d":"g"},{"x":1.28,"y":0.72,"d":"s"},{"x":1.31,"y":0.66,"d":"s"},{"x":1.34,"y":0.59,"d":"g"},{"x":1.4,"y":0.67,"d":"g"},{"x":1.45,"y":0.66,"d":"g"},{"x":1.24,"y":0.62,"d":"g"},
{"x":1.36,"y":1.18,"d":"s"},{"x":1.44,"y":1.14,"d":"s"},{"x":1.5,"y":1.15,"d":"s"},{"x":1.54,"y":1.17,"d":"s"},{"x":1.58,"y":1.2,"d":"s"},{"x":1.62,"y":1.26,"d":"s"},{"x":1.66,"y":1.31,"d":"s"},{"x":1.7,"y":1.36,"d":"s"},{"x":1.74,"y":1.38,"d":"s"},{"x":1.78,"y":1.41,"d":"s"},{"x":1.82,"y":1.45,"d":"s"},{"x":1.86,"y":1.47,"d":"s"},{"x":1.78,"y":1.52,"d":"s"},{"x":1.82,"y":1.55,"d":"s"},{"x":1.86,"y":1.52,"d":"s"},{"x":1.9,"y":1.53,"d":"s"},{"x":1.94,"y":1.57,"d":"s"},{"x":1.98,"y":1.6,"d":"s"},{"x":2.02,"y":1.64,"d":"s"},{"x":2.0,"y":1.7,"d":"s"},{"x":1.96,"y":1.66,"d":"s"},{"x":1.92,"y":1.62,"d":"s"},{"x":1.88,"y":1.6,"d":"s"},{"x":1.84,"y":1.6,"d":"s"},{"x":1.8,"y":1.58,"d":"s"},{"x":1.76,"y":1.56,"d":"s"},{"x":1.74,"y":1.53,"d":"s"},{"x":1.7,"y":1.54,"d":"s"},{"x":1.65,"y":1.53,"d":"s"},{"x":1.6,"y":1.49,"d":"s"},{"x":1.56,"y":1.45,"d":"s"},{"x":1.52,"y":1.4,"d":"s"},{"x":1.48,"y":1.36,"d":"s"},{"x":1.44,"y":1.3,"d":"s"},{"x":1.4,"y":1.27,"d":"s"},{"x":1.36,"y":1.24,"d":"s"},{"x":1.33,"y":1.44,"d":"g"},{"x":1.37,"y":1.5,"d":"g"},{"x":1.46,"y":1.42,"d":"g"},{"x":1.5,"y":1.5,"d":"g"},{"x":1.56,"y":1.6,"d":"g"},{"x":1.63,"y":1.66,"d":"g"},{"x":1.72,"y":1.74,"d":"g"},{"x":1.85,"y":1.73,"d":"g"},{"x":1.92,"y":1.74,"d":"g"},{"x":2.0,"y":1.76,"d":"s"},{"x":2.05,"y":1.75,"d":"s"},{"x":2.1,"y":1.72,"d":"s"},{"x":2.13,"y":1.73,"d":"s"},{"x":2.16,"y":1.7,"d":"s"},{"x":2.08,"y":1.66,"d":"g"},{"x":2.04,"y":1.58,"d":"g"},{"x":1.98,"y":1.53,"d":"g"},{"x":1.93,"y":1.47,"d":"g"},{"x":1.88,"y":1.4,"d":"g"},{"x":1.82,"y":1.36,"d":"g"},{"x":1.76,"y":1.3,"d":"g"},{"x":1.7,"y":1.25,"d":"g"},{"x":1.64,"y":1.18,"d":"g"},{"x":1.58,"y":1.12,"d":"g"},{"x":1.48,"y":1.08,"d":"g"},{"x":1.42,"y":1.02,"d":"g"},{"x":1.52,"y":1.57,"d":"g"},
{"x":1.516,"y":2.61,"d":"g"},{"x":1.87,"y":2.45,"d":"g"},{"x":2.39,"y":2.36,"d":"g"},{"x":2.83,"y":2.59,"d":"g"},{"x":2.97,"y":2.41,"d":"g"},{"x":3.03,"y":2.41,"d":"g"},{"x":2.98,"y":2.14,"d":"g"},{"x":1.52,"y":2.3,"d":"g"},{"x":1.47,"y":2.13,"d":"g"},{"x":1.51,"y":2.01,"d":"g"},{"x":1.59,"y":2.02,"d":"g"},{"x":1.94,"y":2.0,"d":"g"},{"x":2.02,"y":2.17,"d":"g"},{"x":2.28,"y":2.11,"d":"g"},{"x":2.47,"y":2.11,"d":"g"},{"x":2.33,"y":2.0,"d":"g"},{"x":2.23,"y":1.83,"d":"g"},{"x":2.51,"y":1.53,"d":"g"},{"x":2.13,"y":1.33,"d":"g"},{"x":0.48,"y":0.38,"d":"g"},{"x":1.34,"y":0.59,"d":"g"},{"x":2.06,"y":1.45,"d":"g"}
]},"encoding":{
"color":{"field":"d","type":"nominal","legend":null,"scale":{"domain":["s","g","m","t","b","c","e","l","o"],"range":["#27309c","#55606e","#1d35a5","#14788c","#1c2a9e","#0f8c78","#11a044","#74c843","#b28a55"]}},
"size":{"field":"d","type":"nominal","legend":null,"scale":{"type":"ordinal","domain":["s","g","m","t","b","c","e","l","o"],"range":[10,7,40,24,113,90,70,45,30]}}}},
{"mark":{"type":"line","interpolate":"cardinal-closed","strokeWidth":1.6},"data":{"values":[
{"n":"WT","o":1,"x":1.422,"y":1.969},{"n":"WT","o":2,"x":1.302,"y":2.25},{"n":"WT","o":3,"x":1.012,"y":2.367},{"n":"WT","o":4,"x":0.722,"y":2.25},{"n":"WT","o":5,"x":0.602,"y":1.969},{"n":"WT","o":6,"x":0.722,"y":1.688},{"n":"WT","o":7,"x":1.012,"y":1.571},{"n":"WT","o":8,"x":1.302,"y":1.688},
{"n":"BLANK","o":1,"x":1.248,"y":0.842},{"n":"BLANK","o":2,"x":1.129,"y":1.0},{"n":"BLANK","o":3,"x":0.94,"y":1.06},{"n":"BLANK","o":4,"x":0.736,"y":0.937},{"n":"BLANK","o":5,"x":0.664,"y":0.7},{"n":"BLANK","o":6,"x":0.736,"y":0.48},{"n":"BLANK","o":7,"x":0.925,"y":0.4},{"n":"BLANK","o":8,"x":1.16,"y":0.56},
{"n":"T790M","o":1,"x":3.094,"y":0.852},{"n":"T790M","o":2,"x":2.909,"y":1.152},{"n":"T790M","o":3,"x":2.462,"y":1.277},{"n":"T790M","o":4,"x":2.015,"y":1.152},{"n":"T790M","o":5,"x":1.83,"y":0.852},{"n":"T790M","o":6,"x":2.015,"y":0.552},{"n":"T790M","o":7,"x":2.462,"y":0.427},{"n":"T790M","o":8,"x":2.909,"y":0.552}
]},"encoding":{"order":{"field":"o","type":"quantitative"},"color":{"field":"n","type":"nominal","legend":null,"scale":{"domain":["WT","BLANK","T790M"],"range":["#b46a68","#333333","#66859c"]}}}},
{"mark":{"type":"text","font":"Open Sans","fontSize":18.5,"align":"center","baseline":"middle"},"data":{"values":[{"x":0.79,"y":2.5,"n":"WT"},{"x":0.82,"y":0.14,"n":"BLANK"},{"x":2.92,"y":1.45,"n":"T790M"}]},"encoding":{"text":{"field":"n"},"color":{"field":"n","type":"nominal","legend":null,"scale":{"domain":["WT","BLANK","T790M"],"range":["#a2524e","#222222","#4a6a85"]}}}},
{"mark":{"type":"text","font":"Liberation Serif","fontWeight":"bold","fontSize":24,"color":"#111","align":"center","baseline":"middle"},"data":{"values":[{"x":-1.057,"y":4.49,"n":"B"}]},"encoding":{"text":{"field":"n"}}}
]}
]}
